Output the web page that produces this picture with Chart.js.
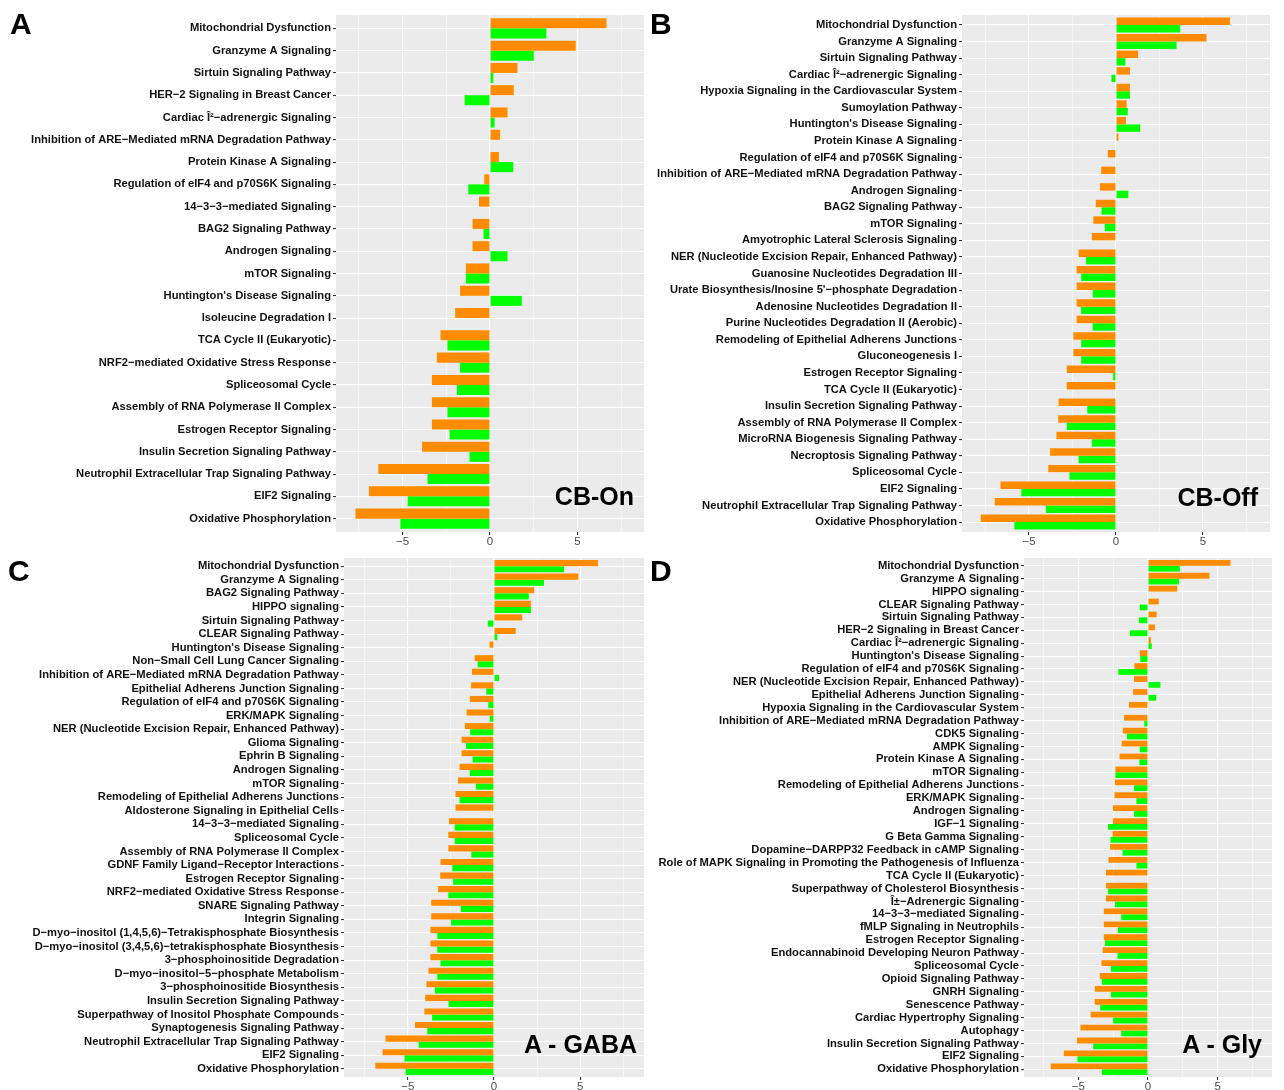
<!DOCTYPE html>
<html>
<head>
<meta charset="utf-8">
<script src="https://cdn.jsdelivr.net/npm/chart.js@4.4.1/dist/chart.umd.min.js"></script>
<style>
  body { margin: 0; width: 1284px; height: 1090px; overflow: hidden; background: #fff; font-family: "Liberation Sans", Arial, sans-serif; }
  canvas { position: absolute; }
  .tag { position: absolute; font-weight: bold; line-height: 1; color: #000; white-space: nowrap; }
  .letter { font-size: 30px; }
  .inset { font-size: 25px; text-align: right; }
</style>
</head>
<body>
<canvas id="panelA" width="646" height="552" style="left:0;top:0"></canvas>
<canvas id="panelB" width="638" height="552" style="left:646px;top:0"></canvas>
<canvas id="panelC" width="646" height="545" style="left:0;top:545px"></canvas>
<canvas id="panelD" width="638" height="545" style="left:646px;top:545px"></canvas>

<div class="tag letter" style="left:10px;top:9px">A</div>
<div class="tag letter" style="left:650px;top:9px">B</div>
<div class="tag letter" style="left:8px;top:556px">C</div>
<div class="tag letter" style="left:650px;top:556px">D</div>
<div class="tag inset" style="right:650px;top:484px">CB-On</div>
<div class="tag inset" style="right:26px;top:485px">CB-Off</div>
<div class="tag inset" style="right:647px;top:1032px">A - GABA</div>
<div class="tag inset" style="right:22px;top:1032px">A - Gly</div>

<script>
// panel A : CB-On
const labelsA = ['Mitochondrial Dysfunction', 'Granzyme A Signaling', 'Sirtuin Signaling Pathway',
  'HER−2 Signaling in Breast Cancer', 'Cardiac Î²−adrenergic Signaling',
  'Inhibition of ARE−Mediated mRNA Degradation Pathway', 'Protein Kinase A Signaling',
  'Regulation of eIF4 and p70S6K Signaling', '14−3−3−mediated Signaling', 'BAG2 Signaling Pathway',
  'Androgen Signaling', 'mTOR Signaling', "Huntington's Disease Signaling", 'Isoleucine Degradation I',
  'TCA Cycle II (Eukaryotic)', 'NRF2−mediated Oxidative Stress Response', 'Spliceosomal Cycle',
  'Assembly of RNA Polymerase II Complex', 'Estrogen Receptor Signaling',
  'Insulin Secretion Signaling Pathway', 'Neutrophil Extracellular Trap Signaling Pathway',
  'EIF2 Signaling', 'Oxidative Phosphorylation'];
const orangeA = [6.66, 4.9, 1.57, 1.36, 1.0, 0.58, 0.51, -0.33, -0.63, -1.0, -1.0, -1.38, -1.71, -1.99,
  -2.83, -3.04, -3.32, -3.32, -3.32, -3.88, -6.38, -6.92, -7.69];
const greenA = [3.22, 2.5, 0.19, -1.45, 0.26, null, 1.33, -1.24, null, -0.37, 1.0, -1.38, 1.82, null,
  -2.43, -1.71, -1.89, -2.43, -2.31, -1.17, -3.57, -4.7, -5.12];

// panel B : CB-Off
const labelsB = ['Mitochondrial Dysfunction', 'Granzyme A Signaling', 'Sirtuin Signaling Pathway',
  'Cardiac Î²−adrenergic Signaling', 'Hypoxia Signaling in the Cardiovascular System',
  'Sumoylation Pathway', "Huntington's Disease Signaling", 'Protein Kinase A Signaling',
  'Regulation of eIF4 and p70S6K Signaling', 'Inhibition of ARE−Mediated mRNA Degradation Pathway',
  'Androgen Signaling', 'BAG2 Signaling Pathway', 'mTOR Signaling', 'Amyotrophic Lateral Sclerosis Signaling',
  'NER (Nucleotide Excision Repair, Enhanced Pathway)', 'Guanosine Nucleotides Degradation III',
  "Urate Biosynthesis/Inosine 5'−phosphate Degradation", 'Adenosine Nucleotides Degradation II',
  'Purine Nucleotides Degradation II (Aerobic)', 'Remodeling of Epithelial Adherens Junctions',
  'Gluconeogenesis I', 'Estrogen Receptor Signaling', 'TCA Cycle II (Eukaryotic)',
  'Insulin Secretion Signaling Pathway', 'Assembly of RNA Polymerase II Complex',
  'MicroRNA Biogenesis Signaling Pathway', 'Necroptosis Signaling Pathway', 'Spliceosomal Cycle',
  'EIF2 Signaling', 'Neutrophil Extracellular Trap Signaling Pathway', 'Oxidative Phosphorylation'];
const orangeB = [6.55, 5.2, 1.27, 0.8, 0.8, 0.61, 0.57, 0.14, -0.47, -0.85, -0.92, -1.16, -1.3, -1.39,
  -2.15, -2.26, -2.26, -2.26, -2.26, -2.45, -2.45, -2.83, -2.83, -3.3, -3.32, -3.42, -3.79, -3.89,
  -6.64, -6.97, -7.77];
const greenB = [3.69, 3.48, 0.54, -0.26, 0.8, 0.68, 1.39, null, null, null, 0.71, -0.83, -0.64, null,
  -1.72, -2.0, -1.34, -2.0, -1.34, -2.0, -2.0, -0.16, null, -1.65, -2.83, -1.39, -2.15, -2.67,
  -5.44, -4.03, -5.84];

// panel C : A - GABA
const labelsC = ['Mitochondrial Dysfunction', 'Granzyme A Signaling', 'BAG2 Signaling Pathway', 'HIPPO signaling',
  'Sirtuin Signaling Pathway', 'CLEAR Signaling Pathway', "Huntington's Disease Signaling",
  'Non−Small Cell Lung Cancer Signaling', 'Inhibition of ARE−Mediated mRNA Degradation Pathway',
  'Epithelial Adherens Junction Signaling', 'Regulation of eIF4 and p70S6K Signaling', 'ERK/MAPK Signaling',
  'NER (Nucleotide Excision Repair, Enhanced Pathway)', 'Glioma Signaling', 'Ephrin B Signaling',
  'Androgen Signaling', 'mTOR Signaling', 'Remodeling of Epithelial Adherens Junctions',
  'Aldosterone Signaling in Epithelial Cells', '14−3−3−mediated Signaling', 'Spliceosomal Cycle',
  'Assembly of RNA Polymerase II Complex', 'GDNF Family Ligand−Receptor Interactions',
  'Estrogen Receptor Signaling', 'NRF2−mediated Oxidative Stress Response', 'SNARE Signaling Pathway',
  'Integrin Signaling', 'D−myo−inositol (1,4,5,6)−Tetrakisphosphate Biosynthesis',
  'D−myo−inositol (3,4,5,6)−tetrakisphosphate Biosynthesis', '3−phosphoinositide Degradation',
  'D−myo−inositol−5−phosphate Metabolism', '3−phosphoinositide Biosynthesis',
  'Insulin Secretion Signaling Pathway', 'Superpathway of Inositol Phosphate Compounds',
  'Synaptogenesis Signaling Pathway', 'Neutrophil Extracellular Trap Signaling Pathway',
  'EIF2 Signaling', 'Oxidative Phosphorylation'];
const orangeC = [6.03, 4.89, 2.33, 2.14, 1.64, 1.26, -0.26, -1.12, -1.28, -1.33, -1.4, -1.59, -1.69, -1.88,
  -1.88, -2.0, -2.09, -2.23, -2.23, -2.61, -2.65, -2.65, -3.1, -3.12, -3.24, -3.64, -3.64, -3.69, -3.69,
  -3.69, -3.8, -3.92, -3.99, -4.04, -4.58, -6.29, -6.46, -6.88];
const greenC = [4.06, 2.9, 2.02, 2.14, -0.36, 0.19, null, -0.95, 0.29, -0.45, -0.33, -0.24, -1.38, -1.62,
  -1.24, -1.4, -1.05, -2.0, null, -2.28, -2.28, -1.31, -2.42, -2.37, -2.65, -1.92, -2.49, -3.29, -3.29,
  -3.1, -3.29, -3.43, -2.63, -3.59, -3.87, -4.37, -5.19, -5.12];

// panel D : A - Gly
const labelsD = ['Mitochondrial Dysfunction', 'Granzyme A Signaling', 'HIPPO signaling', 'CLEAR Signaling Pathway',
  'Sirtuin Signaling Pathway', 'HER−2 Signaling in Breast Cancer', 'Cardiac Î²−adrenergic Signaling',
  "Huntington's Disease Signaling", 'Regulation of eIF4 and p70S6K Signaling',
  'NER (Nucleotide Excision Repair, Enhanced Pathway)', 'Epithelial Adherens Junction Signaling',
  'Hypoxia Signaling in the Cardiovascular System', 'Inhibition of ARE−Mediated mRNA Degradation Pathway',
  'CDK5 Signaling', 'AMPK Signaling', 'Protein Kinase A Signaling', 'mTOR Signaling',
  'Remodeling of Epithelial Adherens Junctions', 'ERK/MAPK Signaling', 'Androgen Signaling',
  'IGF−1 Signaling', 'G Beta Gamma Signaling', 'Dopamine−DARPP32 Feedback in cAMP Signaling',
  'Role of MAPK Signaling in Promoting the Pathogenesis of Influenza', 'TCA Cycle II (Eukaryotic)',
  'Superpathway of Cholesterol Biosynthesis', 'Î±−Adrenergic Signaling', '14−3−3−mediated Signaling',
  'fMLP Signaling in Neutrophils', 'Estrogen Receptor Signaling', 'Endocannabinoid Developing Neuron Pathway',
  'Spliceosomal Cycle', 'Opioid Signaling Pathway', 'GNRH Signaling', 'Senescence Pathway',
  'Cardiac Hypertrophy Signaling', 'Autophagy', 'Insulin Secretion Signaling Pathway', 'EIF2 Signaling',
  'Oxidative Phosphorylation'];
const orangeD = [5.92, 4.41, 2.1, 0.77, 0.62, 0.5, 0.21, -0.59, -0.98, -1.0, -1.07, -1.36, -1.72, -1.8,
  -1.89, -2.04, -2.34, -2.37, -2.4, -2.51, -2.51, -2.54, -2.72, -2.84, -3.02, -3.02, -3.02, -3.17, -3.17,
  -3.17, -3.25, -3.34, -3.46, -3.82, -3.82, -4.11, -4.85, -5.09, -6.04, -6.98];
const greenD = [2.28, 2.22, null, -0.59, -0.65, -1.3, 0.27, -0.56, -2.13, 0.89, 0.59, null, -0.27, -1.51,
  -0.59, -0.62, -2.34, -1.0, -0.83, -1.0, -2.87, -2.69, -1.83, -0.83, null, -2.87, -2.37, -1.92, -2.16,
  -3.08, -2.19, -2.66, -3.31, -2.66, -3.43, -2.51, -1.92, -3.93, -5.06, -3.31];

const FONT = '"Liberation Sans", Arial, sans-serif';

const panelBg = {
  id: 'panelBg',
  beforeDraw(chart) {
    const { ctx, chartArea: a } = chart;
    ctx.save();
    ctx.fillStyle = '#EBEBEB';
    ctx.fillRect(a.left, a.top, a.right - a.left, a.bottom - a.top);
    ctx.restore();
  }
};

const isMajor = (c) => c.tick && Math.abs(c.tick.value % 5) < 1e-9;

// rows sit on a numeric axis so the 0.6 row padding of ggplot's discrete scale can be kept
const rows = (vals) => vals.map((v, i) => ({ x: v, y: i }));

function makePanel(id, labels, orange, green, o) {
  return new Chart(document.getElementById(id), {
    type: 'bar',
    data: {
      datasets: [
        { data: rows(orange), backgroundColor: '#FF8C00', borderWidth: 0, categoryPercentage: 0.9, barPercentage: 1 },
        { data: rows(green), backgroundColor: '#00FF00', borderWidth: 0, categoryPercentage: 0.9, barPercentage: 1 }
      ]
    },
    options: {
      indexAxis: 'y',
      responsive: false,
      animation: false,
      devicePixelRatio: 1,
      layout: { padding: { top: o.top, right: o.right, bottom: 0, left: 0 } },
      plugins: { legend: { display: false }, tooltip: { enabled: false } },
      scales: {
        x: {
          type: 'linear',
          min: -o.lim,
          max: o.lim,
          afterFit: (s) => { s.height = o.xh },
          border: { display: false },
          grid: {
            color: '#FFFFFF',
            lineWidth: (c) => isMajor(c) ? 1.1 : 0.55,
            tickColor: (c) => isMajor(c) ? '#333333' : 'rgba(0,0,0,0)',
            tickLength: 3
          },
          ticks: {
            stepSize: 2.5,
            includeBounds: false,
            autoSkip: false,
            maxRotation: 0,
            padding: 0,
            color: '#4D4D4D',
            font: { family: FONT, size: 11.5 },
            callback: (v) => Math.abs(v % 5) < 1e-9 ? String(v).replace('-', '−') : ''
          }
        },
        y: {
          type: 'linear',
          reverse: true,
          offset: false,
          min: -0.6,
          max: labels.length - 0.4,
          afterFit: (s) => { s.width = o.yw },
          border: { display: false },
          grid: { offset: false, color: '#FFFFFF', lineWidth: 1.1, tickColor: '#333333', tickLength: 3 },
          ticks: {
            stepSize: 1,
            includeBounds: false,
            autoSkip: false,
            padding: 2,
            color: '#111111',
            font: { family: FONT, size: 11.2, weight: 'bold' },
            callback: (v) => labels[v] !== undefined ? labels[v] : ''
          }
        }
      }
    },
    plugins: [panelBg]
  });
}

makePanel('panelA', labelsA, orangeA, greenA, { lim: 8.8, top: 15, right: 2, xh: 20, yw: 336 });
makePanel('panelB', labelsB, orangeB, greenB, { lim: 8.85, top: 15, right: 14, xh: 20, yw: 316 });
makePanel('panelC', labelsC, orangeC, greenC, { lim: 8.7, top: 13, right: 2, xh: 13, yw: 344 });
makePanel('panelD', labelsD, orangeD, greenD, { lim: 8.9, top: 13, right: 12, xh: 13, yw: 378 });
</script>
</body>
</html>
